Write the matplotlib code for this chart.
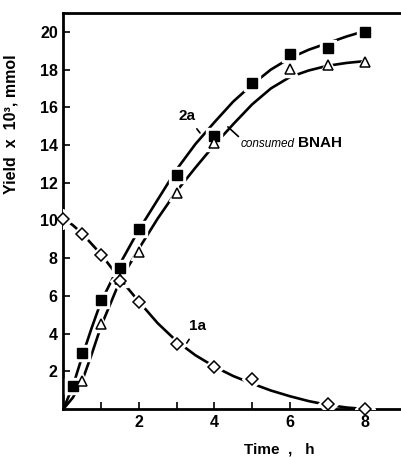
import numpy as np
import matplotlib; matplotlib.use('Agg'); import matplotlib.pyplot as plt

plt.rcParams['font.family'] = ['Liberation Sans', 'DejaVu Sans']

# measured points
t_2a = [0.25, 0.5, 1, 1.5, 2, 3, 4, 5, 6, 7, 8]
y_2a = [1.2, 2.95, 5.8, 7.5, 9.55, 12.4, 14.5, 17.3, 18.8, 19.15, 20.0]
t_bnah = [0.5, 1, 1.5, 2, 3, 4, 6, 7, 8]
y_bnah = [1.5, 4.5, 6.9, 8.3, 11.45, 14.1, 18.05, 18.25, 18.4]
t_1a = [0, 0.5, 1, 1.5, 2, 3, 4, 5, 7, 8]
y_1a = [10.1, 9.3, 8.15, 6.8, 5.7, 3.45, 2.25, 1.6, 0.25, 0.0]

# hand-drawn fit curves
tc = [0, 0.25, 0.5, 0.75, 1, 1.5, 2, 2.5, 3, 3.5, 4, 4.5, 5, 5.5, 6, 6.5, 7, 7.5, 8]
c_2a = [0, 1.2, 2.8, 4.3, 5.7, 7.7, 9.5, 11.1, 12.7, 14.05, 15.2, 16.3, 17.2, 18.0,
        18.6, 19.05, 19.4, 19.75, 20.05]
c_bnah = [0, 0.6, 1.5, 2.9, 4.4, 6.8, 8.5, 10.1, 11.55, 12.8, 14.0, 15.1, 16.15, 17.0,
          17.6, 17.95, 18.2, 18.35, 18.45]
tc_1a = [0, 0.25, 0.5, 1, 1.5, 2, 2.5, 3, 3.5, 4, 4.5, 5, 5.5, 6, 6.5, 7, 7.5, 8]
c_1a = [10.1, 9.75, 9.3, 8.2, 6.9, 5.7, 4.55, 3.6, 2.85, 2.25, 1.75, 1.35, 0.98, 0.68,
        0.42, 0.22, 0.08, 0.0]

fig = plt.figure(figsize=(4.01, 4.57), dpi=100)
ax = fig.add_axes([0.158, 0.105, 0.847, 0.8666])

lw = 1.9
ax.plot(tc, c_2a, '-', color='black', lw=lw, zorder=2)
ax.plot(tc, c_bnah, '-', color='black', lw=lw, zorder=2)
ax.plot(tc_1a, c_1a, '-', color='black', lw=lw, zorder=2)

# white halos break the curves around markers
ax.plot(t_2a, y_2a, 's', ms=11.5, color='white', zorder=3)
ax.plot(t_bnah, y_bnah, '^', ms=12, color='white', zorder=3)
ax.plot(t_1a, y_1a, 'D', ms=10, color='white', zorder=3)

ax.plot(t_2a, y_2a, 's', ms=7, mfc='black', mec='black', zorder=4, clip_on=False)
ax.plot(t_bnah, y_bnah, '^', ms=7.5, mfc='white', mec='black', mew=1.1, zorder=4, clip_on=False)
ax.plot(t_1a, y_1a, 'D', ms=6.5, mfc='white', mec='black', mew=1.1, zorder=4, clip_on=False)

ax.set_xlim(0, 9)
ax.set_ylim(0, 21)
ax.set_xticks(range(1, 9))
ax.set_xticklabels(['', '2', '', '4', '', '6', '', '8'])
ax.set_yticks(range(2, 21, 2))
ax.tick_params(direction='in', length=5, width=1.2, labelsize=11.5, pad=4)
for lab in ax.get_xticklabels() + ax.get_yticklabels():
    lab.set_fontweight('bold')
for s in ['left', 'bottom', 'top']:
    ax.spines[s].set_linewidth(2)
ax.spines['right'].set_visible(False)

ax.set_ylabel('Yield  x  10³, mmol', fontsize=11.5, fontweight='bold')
ax.yaxis.set_label_coords(-0.131, 0.72)
ax.set_xlabel('Time  ,   h', fontsize=11, fontweight='bold')
ax.xaxis.set_label_coords(0.637, -0.085)

ax.annotate('2a', xy=(3.62, 14.64), xytext=(3.27, 15.55), fontsize=11, fontweight='bold',
            ha='center', va='center', arrowprops=dict(arrowstyle='-', lw=1.2, shrinkA=3, shrinkB=0))
ax.annotate('1a', xy=(3.27, 3.5), xytext=(3.56, 4.4), fontsize=11, fontweight='bold',
            ha='center', va='center', arrowprops=dict(arrowstyle='-', lw=1.2, shrinkA=3, shrinkB=0))
ax.annotate('', xy=(4.36, 14.96), xytext=(4.64, 14.45),
            arrowprops=dict(arrowstyle='-', lw=1.2, shrinkA=0, shrinkB=0))
ax.text(4.70, 14.05, 'consumed', fontsize=8.5, style='italic', ha='left', va='center')
ax.text(6.22, 14.1, 'BNAH', fontsize=11, fontweight='bold', ha='left', va='center')

fig.savefig('out.png', dpi=100)
